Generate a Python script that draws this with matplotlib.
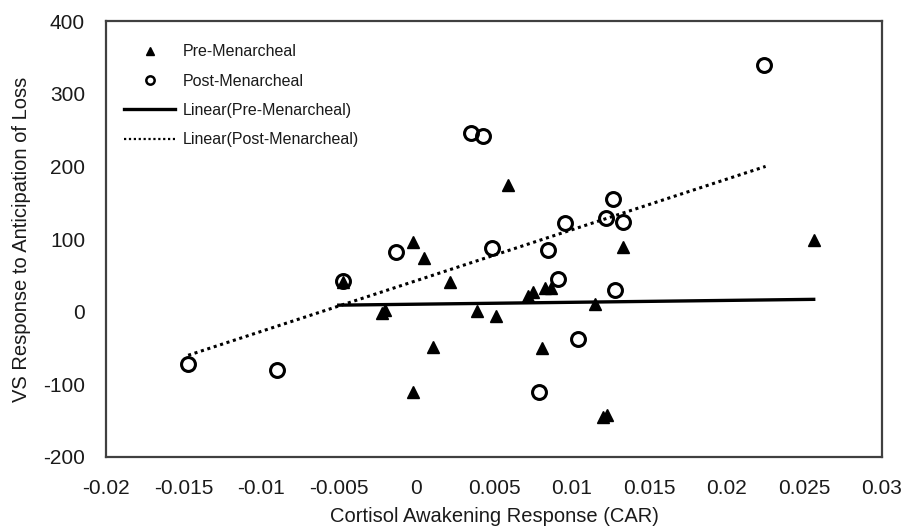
"""
Scatter of VS response to anticipation of loss vs. cortisol awakening response.
"""

import matplotlib.pyplot as plt
from matplotlib.lines import Line2D

plt.rcParams["font.family"] = ["Liberation Sans", "DejaVu Sans"]
plt.rcParams["axes.unicode_minus"] = False

# Pre-menarcheal girls (filled triangles)
pre_x = [-0.0047, -0.0020, -0.0022, -0.0002, 0.0005, 0.0011, -0.0002, 0.0022,
         0.0039, 0.0051, 0.0059, 0.0072, 0.0075, 0.0083, 0.0087, 0.0081,
         0.0115, 0.0120, 0.0123, 0.0133, 0.0256]
pre_y = [41, 2, -2, 96, 74, -49, -110, 41,
         1, -6, 174, 22, 27, 33, 33, -50,
         11, -145, -142, 89, 99]

# Post-menarcheal girls (open circles)
post_x = [-0.0147, -0.0090, -0.0047, -0.0013, 0.0035, 0.0043, 0.0049, 0.0085,
          0.0096, 0.0091, 0.0122, 0.0127, 0.0133, 0.0128, 0.0104, 0.0079,
          0.0224]
post_y = [-72, -80, 42, 82, 246, 242, 88, 85,
          122, 45, 129, 155, 123, 30, -37, -110,
          340]

# Linear trend lines (end points)
pre_fit_x = [-0.0050, 0.0256]
pre_fit_y = [9, 17]
post_fit_x = [-0.0147, 0.0225]
post_fit_y = [-60, 200]

x_ticks = [-0.02, -0.015, -0.01, -0.005, 0, 0.005, 0.01, 0.015, 0.02, 0.025, 0.03]
x_tick_labels = ["-0.02", "-0.015", "-0.01", "-0.005", "0", "0.005", "0.01",
                 "0.015", "0.02", "0.025", "0.03"]
y_ticks = [-200, -100, 0, 100, 200, 300, 400]


def main() -> None:
    fig = plt.figure(figsize=(9.05, 5.28), dpi=100)
    ax = fig.add_axes([0.117, 0.1345, 0.8576, 0.8255])

    ax.plot(post_fit_x, post_fit_y, color="black", linewidth=2.2,
            linestyle=(0, (1, 1.2)))
    ax.plot(pre_fit_x, pre_fit_y, color="black", linewidth=2.4)

    ax.plot(post_x, post_y, linestyle="none", marker="o", markersize=10,
            markerfacecolor="none", markeredgecolor="black",
            markeredgewidth=2.2)
    ax.plot(pre_x, pre_y, linestyle="none", marker="^", markersize=9,
            color="black")

    ax.set_xlim(-0.02, 0.03)
    ax.set_ylim(-200, 400)
    ax.set_xticks(x_ticks)
    ax.set_xticklabels(x_tick_labels)
    ax.set_yticks(y_ticks)
    ax.tick_params(length=0, labelsize=15, colors="#1a1a1a")
    ax.tick_params(axis="x", pad=16)
    ax.tick_params(axis="y", pad=15)
    for spine in ax.spines.values():
        spine.set_color("#404040")
        spine.set_linewidth(1.6)

    ax.set_xlabel("Cortisol Awakening Response (CAR)", fontsize=14.5,
                  color="#1a1a1a", labelpad=6)
    ax.set_ylabel("VS Response to Anticipation of Loss", fontsize=14.5,
                  color="#1a1a1a", labelpad=9)

    handles = [
        Line2D([], [], linestyle="none", marker="^", markersize=6,
               color="black"),
        Line2D([], [], linestyle="none", marker="o", markersize=6,
               markerfacecolor="none", markeredgecolor="black",
               markeredgewidth=1.8),
        Line2D([], [], color="black", linewidth=2.4),
        Line2D([], [], color="black", linewidth=1.6, linestyle=(0, (1, 1.2))),
    ]
    labels = ["Pre-Menarcheal", "Post-Menarcheal", "Linear(Pre-Menarcheal)",
              "Linear(Post-Menarcheal)"]
    ax.legend(handles, labels, loc="upper left", bbox_to_anchor=(0.005, 0.98),
              frameon=False, fontsize=11.5, handlelength=3.2,
              handletextpad=0.5, labelspacing=0.9, labelcolor="#1a1a1a")

    fig.savefig("out.png", dpi=100)


if __name__ == "__main__":
    main()
